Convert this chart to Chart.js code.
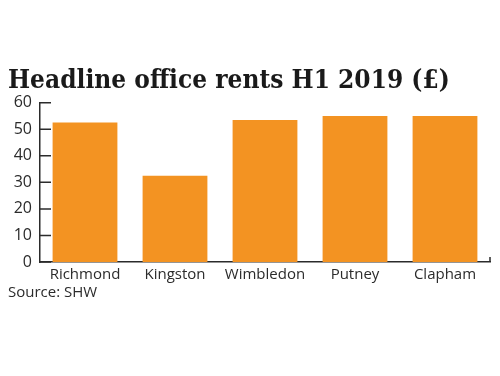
<!DOCTYPE html>
<html>
<head>
<meta charset="utf-8">
<script src="https://cdn.jsdelivr.net/npm/chart.js@4"></script>
<style>
  html, body { margin: 0; padding: 0; background: #fff; }
  #wrap { width: 500px; height: 376px; }
</style>
</head>
<body>
<div id="wrap"><canvas id="rentChart"></canvas></div>
<script>
const areas = ['Richmond', 'Kingston', 'Wimbledon', 'Putney', 'Clapham'];
const rents = [52.5, 32.5, 53.5, 55, 55];
const yTicks = [0, 10, 20, 30, 40, 50, 60];

const ink = '#2b2b2b';

// ticks point inwards on the y axis, plus the little end tick on the x axis
const innerTicks = {
    id: 'innerTicks',
    afterDraw(chart) {
        const ctx = chart.ctx;
        const y = chart.scales.y;
        const x = chart.scales.x;
        ctx.save();
        ctx.strokeStyle = ink;
        ctx.lineWidth = 1.5;
        ctx.beginPath();
        yTicks.forEach(v => {
            const py = y.getPixelForValue(v);
            ctx.moveTo(x.left, py);
            ctx.lineTo(x.left + 11, py);
        });
        ctx.moveTo(x.right, y.bottom);
        ctx.lineTo(x.right, y.bottom - 5);
        ctx.stroke();
        ctx.restore();
    }
};

const ctx = document.getElementById('rentChart').getContext('2d');
new Chart(ctx, {
    type: 'bar',
    data: {
        labels: areas,
        datasets: [{
            label: 'Headline office rents H1 2019 (£)',
            data: rents,
            backgroundColor: '#f39322',
            borderWidth: 0,
            categoryPercentage: 0.8,
            barPercentage: 0.9
        }]
    },
    options: {
        responsive: true,
        maintainAspectRatio: false,
        animation: false,
        layout: { padding: { top: 66, left: 8, right: 10, bottom: 74 } },
        plugins: {
            legend: { display: false },
            tooltip: { enabled: false },
            title: {
                display: true,
                text: 'Headline office rents H1 2019 (£)',
                align: 'start',
                color: '#1a1a1a',
                font: { family: 'DejaVu Serif Condensed', weight: 'bold', size: 26, lineHeight: 1.2 },
                padding: { top: 0, bottom: 5.5 }
            },
            subtitle: {
                display: true,
                position: 'bottom',
                align: 'start',
                text: 'Source: SHW',
                color: ink,
                font: { family: 'Open Sans', size: 15, lineHeight: 1.2 },
                padding: 0
            }
        },
        scales: {
            x: {
                grid: { display: false, drawTicks: false },
                border: { display: true, color: ink, width: 1.5 },
                ticks: { color: ink, padding: 4, font: { family: 'Open Sans', size: 15 } },
                afterFit: s => { s.height = 22; }
            },
            y: {
                min: 0,
                max: 60,
                grid: { display: false, drawTicks: false },
                border: { display: true, color: ink, width: 1.5 },
                afterBuildTicks: s => { s.ticks = yTicks.map(v => ({ value: v })); },
                ticks: { color: ink, padding: 8, font: { family: 'Open Sans', size: 16 } },
                afterFit: s => { s.width = 32; }
            }
        }
    },
    plugins: [innerTicks]
});
</script>
</body>
</html>
